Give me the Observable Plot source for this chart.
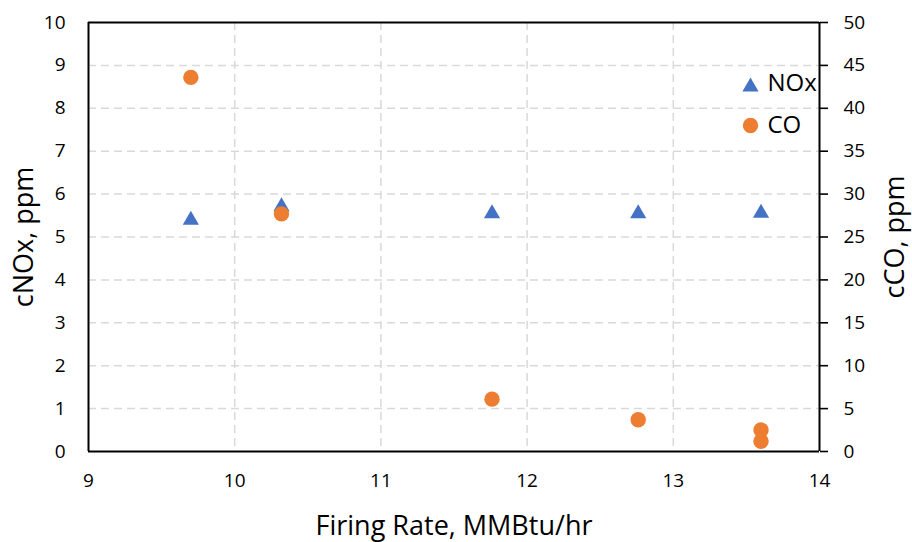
<!DOCTYPE html>
<html>
<head>
<meta charset="utf-8">
<script src="https://cdn.jsdelivr.net/npm/d3@7"></script>
<script src="https://cdn.jsdelivr.net/npm/@observablehq/plot@0.6"></script>
<style>
  html, body { margin: 0; padding: 0; background: #fff; }
  #chart svg { display: block; }
</style>
</head>
<body>
<div id="chart"></div>
<script>
// Data
const noxRate = [9.70, 10.32, 11.76, 12.76, 13.60];
const noxPpm  = [5.45, 5.76, 5.60, 5.60, 5.61];
const coRate  = [9.70, 10.32, 11.76, 12.76, 13.60, 13.60];
const coPpm   = [43.6, 27.7, 6.1, 3.7, 2.5, 1.2];

const xTicks = [9, 10, 11, 12, 13, 14];
const yLeftTicks = [0, 1, 2, 3, 4, 5, 6, 7, 8, 9, 10];
const coPerNox = 5; // right axis 0–50 maps onto left axis 0–10

const noxData = noxRate.map((x, i) => ({x, y: noxPpm[i]}));
const coData = coRate.map((x, i) => ({x, co: coPpm[i]}));

const blue = "#4472C4";
const orange = "#ED7D31";
const grid = {stroke: "#d9d9d9", strokeOpacity: 1, strokeWidth: 1.5, strokeDasharray: "8,5"};

const chart = Plot.plot({
  width: 912,
  height: 542,
  marginLeft: 88,
  marginRight: 93,
  marginTop: 22,
  marginBottom: 91,
  style: {fontFamily: "Open Sans", fontSize: "19px", color: "#000", background: "#fff"},
  x: {domain: [9, 14]},
  y: {domain: [0, 10]},
  marks: [
    Plot.gridY(yLeftTicks.filter(d => d > 0 && d < 10), grid),
    Plot.gridX(xTicks.filter(d => d > 9 && d < 14), grid),
    Plot.axisY(yLeftTicks, {anchor: "left", tickSize: 0, tickPadding: 23, label: null, fontSize: 19, tickFormat: d => String(d)}),
    Plot.axisY(yLeftTicks, {anchor: "right", tickSize: 8, tickPadding: 16, strokeWidth: 1.6,
      tickFormat: d => String(d * coPerNox), label: null, fontSize: 19}),
    Plot.axisX(xTicks, {anchor: "bottom", tickSize: 0, tickPadding: 22, label: null, fontSize: 19, tickFormat: d => String(d)}),
    Plot.ruleX([9, 14], {stroke: "#000", strokeWidth: 2}),
    Plot.ruleY([0, 10], {stroke: "#000", strokeWidth: 2}),
    Plot.dot(noxData, {x: "x", y: "y", symbol: "triangle", r: 6, fill: blue, dy: 2.3}),
    Plot.dot(coData, {x: "x", y: d => d.co / coPerNox, r: 7.7, fill: orange}),
    // legend
    Plot.dot(["NOx"], {frameAnchor: "top-right", dx: -69, dy: 64.3, symbol: "triangle", r: 6, fill: blue}),
    Plot.text(["NOx"], {frameAnchor: "top-right", text: d => d, dx: -52, dy: 61, textAnchor: "start", lineAnchor: "middle", fontSize: 24}),
    Plot.dot(["CO"], {frameAnchor: "top-right", dx: -69, dy: 103, r: 7.7, fill: orange}),
    Plot.text(["CO"], {frameAnchor: "top-right", text: d => d, dx: -52, dy: 103, textAnchor: "start", lineAnchor: "middle", fontSize: 24}),
    // axis titles
    Plot.text(["Firing Rate, MMBtu/hr"], {frameAnchor: "bottom", text: d => d, dy: 74.5, textAnchor: "middle", lineAnchor: "middle", fontSize: 27}),
    Plot.text(["cNOx, ppm"], {frameAnchor: "left", text: d => d, dx: -64, rotate: -90, textAnchor: "middle", lineAnchor: "middle", fontSize: 27}),
    Plot.text(["cCO, ppm"], {frameAnchor: "right", text: d => d, dx: 75.5, rotate: -90, textAnchor: "middle", lineAnchor: "middle", fontSize: 27})
  ]
});
document.getElementById("chart").append(chart);
</script>
</body>
</html>
